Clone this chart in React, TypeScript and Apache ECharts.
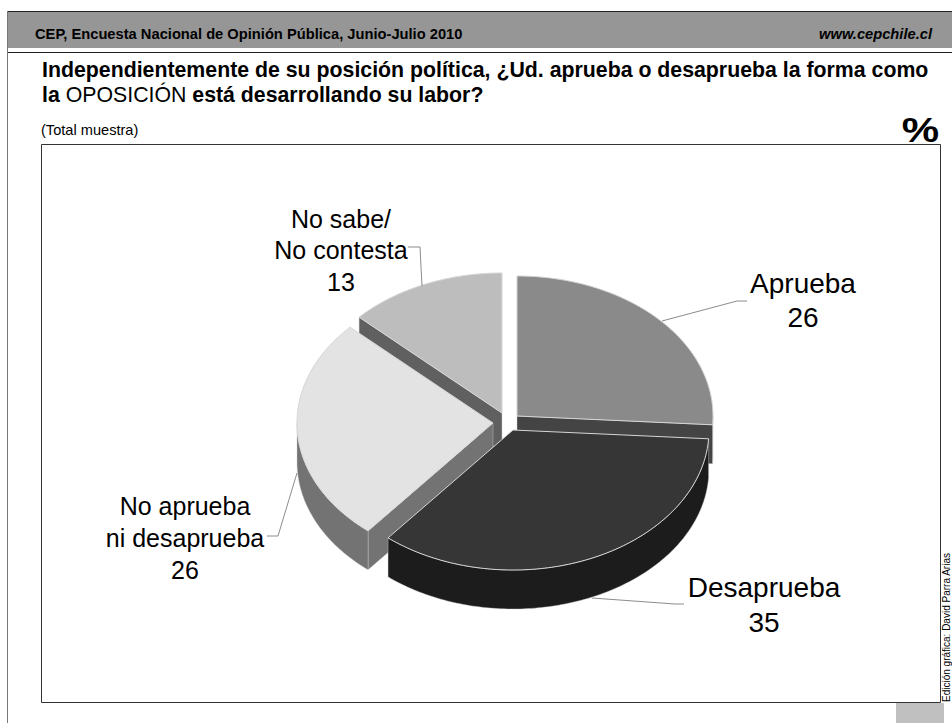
import React, { useEffect, useRef } from "react";
import * as echarts from "echarts";

const categories = ["Aprueba", "Desaprueba", "No aprueba ni desaprueba", "No sabe/No contesta"];
const values = [26, 35, 26, 13];
const labelLines = [["Aprueba"], ["Desaprueba"], ["No aprueba", "ni desaprueba"], ["No sabe/", "No contesta"]];
const topColors = ["#8a8a8a", "#363636", "#e3e3e3", "#bdbdbd"];
const sideColors = ["#444444", "#1c1c1c", "#737373", "#606060"];
const drawOrder = [3, 0, 2, 1];

const headerLeft = "CEP, Encuesta Nacional de Opinión Pública, Junio-Julio 2010";
const headerRight = "www.cepchile.cl";
const titleLine1 = "Independientemente de su posición política, ¿Ud. aprueba o desaprueba la forma como";
const subtitle = "(Total muestra)";
const credit = "Edición gráfica: David Parra Arias";

const FONT = '"Liberation Sans", Arial, sans-serif';
const RX = 196;
const RY = 140;
const DEPTH = 39;
const centers = [
  [517, 416],
  [513, 430],
  [493, 423],
  [502, 413],
];
const labelPlace = [
  { x: 803, ys: [283, 317], size: 28 },
  { x: 764, ys: [587, 622], size: 28 },
  { x: 185, ys: [506, 538, 570], size: 25 },
  { x: 341, ys: [219, 250, 282], size: 25 },
];
const leaders = [
  [[747, 301], [737, 301], [662, 321]],
  [[684, 604], [675, 604], [592, 598]],
  [[267, 536], [278, 536], [297, 473]],
  [[408, 247], [420, 247], [422, 286]],
];

const total = values.reduce((a, b) => a + b, 0);

function rimPoint(c: number[], deg: number, dy = 0): number[] {
  const t = (deg * Math.PI) / 180;
  return [c[0] + RX * Math.sin(t), c[1] - RY * Math.cos(t) + dy];
}

function arcPoints(c: number[], from: number, to: number, dy = 0): number[][] {
  const pts: number[][] = [];
  const n = Math.max(2, Math.ceil(Math.abs(to - from)));
  for (let i = 0; i <= n; i++) pts.push(rimPoint(c, from + ((to - from) * i) / n, dy));
  return pts;
}

const wallStroke = { stroke: "rgba(205,205,205,0.55)", lineWidth: 0.75 };

function renderSlice(_params: any, api: any) {
  const idx = api.value(1) as number;
  const before = values.slice(0, idx).reduce((a, b) => a + b, 0);
  const start = (before / total) * 360;
  const end = ((before + values[idx]) / total) * 360;
  const c = centers[idx];
  const children: any[] = [];
  const sinS = Math.sin((start * Math.PI) / 180);
  const sinE = Math.sin((end * Math.PI) / 180);
  const radial = (deg: number) => {
    const r = rimPoint(c, deg);
    const points = [c, r, [r[0], r[1] + DEPTH], [c[0], c[1] + DEPTH]];
    children.push({ type: "polygon", shape: { points }, style: { fill: sideColors[idx], ...wallStroke } });
  };
  if (sinS < -1e-6) radial(start);
  if (sinE > 1e-6) radial(end);
  const from = Math.max(start, 90);
  const to = Math.min(end, 270);
  if (to > from) {
    const upper = arcPoints(c, from, to);
    const lower = arcPoints(c, from, to, DEPTH).reverse();
    children.push({
      type: "polygon",
      shape: { points: [...upper, ...lower] },
      style: { fill: sideColors[idx], ...wallStroke },
    });
  }
  children.push({
    type: "polygon",
    shape: { points: [c, ...arcPoints(c, start, end)] },
    style: { fill: topColors[idx], stroke: "#d6d6d6", lineWidth: 1 },
  });
  return { type: "group", children };
}

function rectEl(x: number, y: number, w: number, h: number, fill: string, z = 0) {
  return { type: "rect", silent: true, z, shape: { x, y, width: w, height: h }, style: { fill } };
}
function lineEl(x1: number, y1: number, x2: number, y2: number, stroke: string, lineWidth = 1) {
  return { type: "line", silent: true, shape: { x1, y1, x2, y2 }, style: { stroke, lineWidth } };
}
function textEl(text: string, x: number, y: number, font: string, extra: any = {}, styleExtra: any = {}) {
  return {
    type: "text",
    silent: true,
    x,
    y,
    ...extra,
    style: { text, font, fill: "#000", textAlign: "left", textVerticalAlign: "middle", ...styleExtra },
  };
}

const TITLE_SIZE = 21.3;

const graphics: any[] = [
  rectEl(7, 11, 945, 37, "#969696"),
  lineEl(7, 11.5, 952, 11.5, "#222222", 1),
  lineEl(7, 52.5, 952, 52.5, "#222222", 1),
  lineEl(7.5, 11, 7.5, 723, "#777777", 1),
  { type: "rect", silent: true, shape: { x: 41.5, y: 144.5, width: 899, height: 558 }, style: { fill: "none", stroke: "#333333", lineWidth: 1 } },
  rectEl(896, 703, 48, 20, "#c0c0c0"),
  textEl(headerLeft, 35, 33.5, `bold 14.7px ${FONT}`),
  textEl(headerRight, 932, 33.5, `italic bold 14.7px ${FONT}`, {}, { textAlign: "right" }),
  textEl(titleLine1, 42, 69.5, `bold ${TITLE_SIZE}px ${FONT}`),
  {
    type: "text",
    silent: true,
    x: 42,
    y: 94.5,
    style: {
      text: "{b|la }{n|OPOSICIÓN }{b|está desarrollando su labor?}",
      fill: "#000",
      textVerticalAlign: "middle",
      rich: {
        b: { font: `bold ${TITLE_SIZE}px ${FONT}`, fill: "#000", color: "#000" },
        n: { font: `${TITLE_SIZE}px ${FONT}`, fill: "#000", color: "#000" },
      },
    },
  },
  textEl(subtitle, 41, 130, `14.6px ${FONT}`),
  textEl("%", 939, 130, `bold 35px ${FONT}`, { scaleX: 1.2 }, { textAlign: "right" }),
  textEl(credit, 946.5, 702, `10px ${FONT}`, { rotation: Math.PI / 2 }, { textVerticalAlign: "middle" }),
];

leaders.forEach((points) => {
  graphics.push({ type: "polyline", silent: true, z: 5, shape: { points }, style: { stroke: "#8c8c8c", lineWidth: 1, fill: "none" } });
});

labelLines.forEach((lines, i) => {
  const place = labelPlace[i];
  [...lines, String(values[i])].forEach((t, k) => {
    graphics.push(textEl(t, place.x, place.ys[k], `${place.size}px ${FONT}`, { z: 6 }, { textAlign: "center" }));
  });
});

export default function App() {
  const ref = useRef<HTMLDivElement>(null);
  useEffect(() => {
    const chart = echarts.init(ref.current!, undefined, { renderer: "svg" });
    chart.setOption({
      animation: false,
      backgroundColor: "#ffffff",
      graphic: graphics,
      series: [
        {
          type: "custom",
          coordinateSystem: "none",
          name: categories.join(", "),
          silent: true,
          clip: false,
          renderItem: renderSlice,
          data: drawOrder.map((i) => ({ name: categories[i], value: [values[i], i] })),
        },
      ],
    });
    return () => chart.dispose();
  }, []);
  return <div ref={ref} style={{ position: "absolute", left: 0, top: 0, width: 952, height: 723 }} />;
}
